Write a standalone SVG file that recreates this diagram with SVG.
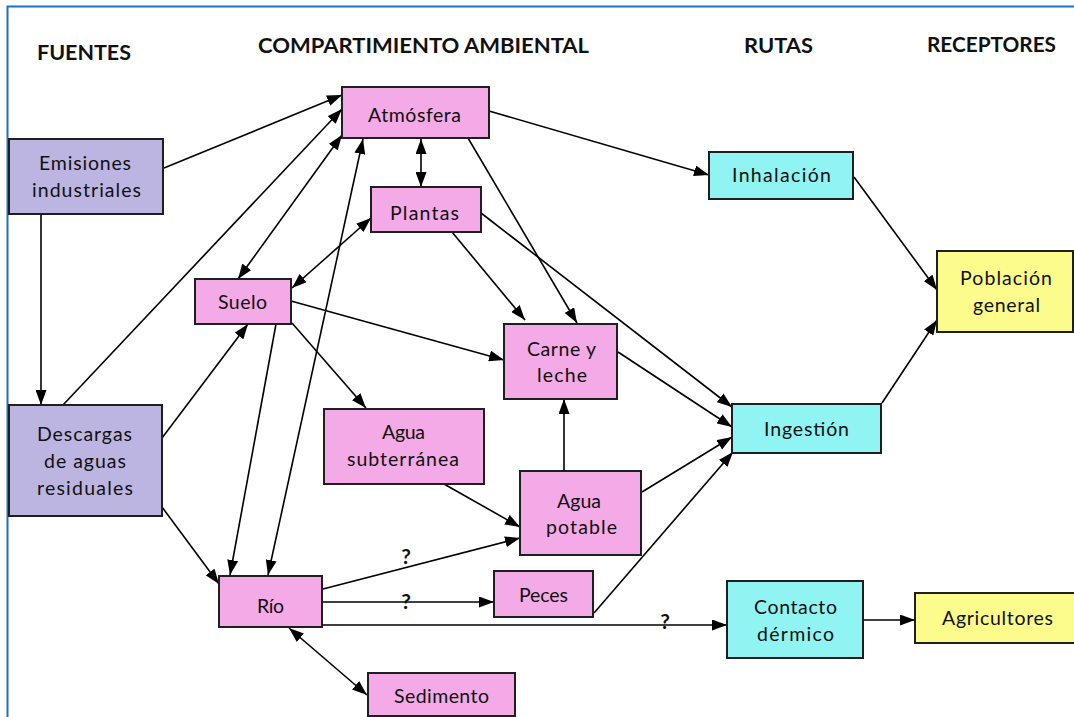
<svg xmlns="http://www.w3.org/2000/svg" width="1074" height="717" viewBox="0 0 1074 717">
  <style>
    .box { stroke: #1f1f1f; stroke-width: 2; }
    .src { fill: #bdb5e1; }
    .env { fill: #f4aae6; }
    .route { fill: #90f4f3; }
    .rec { fill: #fcfc8c; }
    .lbl { font-family: Lato, "Liberation Sans", sans-serif; font-size: 19.5px; fill: #111; text-anchor: middle; }
    .hdr { font-family: Lato, "Liberation Sans", sans-serif; font-size: 21px; font-weight: bold; fill: #111; text-anchor: middle; }
    .q { font-family: Lato, "Liberation Sans", sans-serif; font-size: 21px; font-weight: bold; fill: #111; text-anchor: middle; }
    .conn line { stroke: #000; stroke-width: 1.6; fill: none; }
    .one { marker-end: url(#arr); }
    .two { marker-start: url(#arr); marker-end: url(#arr); }
  </style>
  <defs>
    <marker id="arr" viewBox="0 0 15 11" refX="15" refY="5.5" markerWidth="15" markerHeight="11" markerUnits="userSpaceOnUse" orient="auto-start-reverse">
      <path d="M0,0 L15,5.5 L0,11 z" fill="#000"/>
    </marker>
  </defs>

  <rect width="1074" height="717" fill="#ffffff"/>
  <!-- page frame -->
  <rect x="7.5" y="6.5" width="1200" height="800" fill="none" stroke="#1c72c6" stroke-width="2"/>

  <!-- column headings -->
  <g id="headings">
    <text class="hdr" x="84" y="60" textLength="94" lengthAdjust="spacingAndGlyphs">FUENTES</text>
    <text class="hdr" x="423.5" y="53" textLength="331" lengthAdjust="spacingAndGlyphs">COMPARTIMIENTO AMBIENTAL</text>
    <text class="hdr" x="778.5" y="53" textLength="69" lengthAdjust="spacingAndGlyphs">RUTAS</text>
    <text class="hdr" x="991.5" y="52" textLength="129" lengthAdjust="spacingAndGlyphs">RECEPTORES</text>
  </g>

  <!-- connectors -->
  <g id="connectors" class="conn">
    <line class="one" x1="164" y1="168" x2="342" y2="95"/>
    <line class="one" x1="41" y1="214" x2="41" y2="405"/>
    <line class="one" x1="63" y1="405" x2="342" y2="109"/>
    <line class="two" x1="238" y1="279" x2="342" y2="135"/>
    <line class="two" x1="268" y1="575" x2="363" y2="139"/>
    <line class="one" x1="276" y1="324" x2="230" y2="575"/>
    <line class="one" x1="162" y1="438" x2="248" y2="324"/>
    <line class="one" x1="162" y1="507" x2="219" y2="584"/>
    <line class="two" x1="292" y1="288" x2="371" y2="218"/>
    <line class="two" x1="421" y1="139" x2="421" y2="187"/>
    <line class="one" x1="489" y1="111" x2="709" y2="175"/>
    <line class="one" x1="468" y1="138" x2="577" y2="323"/>
    <line class="one" x1="452" y1="232" x2="525" y2="320"/>
    <line class="one" x1="481" y1="213" x2="732" y2="407"/>
    <line class="one" x1="291" y1="301" x2="504" y2="360"/>
    <line class="one" x1="292" y1="323" x2="366" y2="408"/>
    <line class="one" x1="618" y1="352" x2="732" y2="427"/>
    <line class="one" x1="564" y1="471" x2="564" y2="399"/>
    <line class="one" x1="642" y1="492" x2="732" y2="437"/>
    <line class="one" x1="594" y1="613" x2="733" y2="452"/>
    <line class="one" x1="444" y1="484" x2="520" y2="527"/>
    <line class="one" x1="323" y1="589" x2="520" y2="538"/>
    <line class="one" x1="322" y1="602" x2="494" y2="602"/>
    <line class="one" x1="322" y1="625" x2="727" y2="625"/>
    <line class="two" x1="289" y1="628" x2="367" y2="695"/>
    <line class="one" x1="854" y1="177" x2="937" y2="290"/>
    <line class="one" x1="882" y1="403" x2="937" y2="320"/>
    <line class="one" x1="863" y1="620" x2="915" y2="620"/>
    <text class="q" x="406" y="564">?</text>
    <text class="q" x="406" y="609">?</text>
    <text class="q" x="665" y="629">?</text>
  </g>

  <!-- sources -->
  <g id="emisiones">
    <rect class="box src" x="9" y="139" width="154" height="75"/>
    <text class="lbl" x="85" y="170" textLength="92">Emisiones</text>
    <text class="lbl" x="86.5" y="197" textLength="109">industriales</text>
  </g>
  <g id="descargas">
    <rect class="box src" x="9" y="405" width="153" height="111"/>
    <text class="lbl" x="84.5" y="441" textLength="95">Descargas</text>
    <text class="lbl" x="85" y="468" textLength="82">de aguas</text>
    <text class="lbl" x="85" y="495" textLength="96">residuales</text>
  </g>

  <!-- environmental compartments -->
  <g id="atmosfera">
    <rect class="box env" x="342" y="87" width="147" height="51"/>
    <text class="lbl" x="414.5" y="122" textLength="93">Atmósfera</text>
  </g>
  <g id="plantas">
    <rect class="box env" x="371" y="187" width="110" height="45"/>
    <text class="lbl" x="424.5" y="220" textLength="69">Plantas</text>
  </g>
  <g id="suelo">
    <rect class="box env" x="195" y="279" width="96" height="45"/>
    <text class="lbl" x="242.5" y="309" textLength="49">Suelo</text>
  </g>
  <g id="carne">
    <rect class="box env" x="504" y="324" width="113" height="75"/>
    <text class="lbl" x="561.5" y="356" textLength="69">Carne y</text>
    <text class="lbl" x="562" y="382" textLength="50">leche</text>
  </g>
  <g id="subterranea">
    <rect class="box env" x="324" y="409" width="160" height="75"/>
    <text class="lbl" x="403.5" y="439" textLength="43">Agua</text>
    <text class="lbl" x="403" y="466" textLength="112">subterránea</text>
  </g>
  <g id="potable">
    <rect class="box env" x="520" y="471" width="121" height="84"/>
    <text class="lbl" x="579" y="508" textLength="44">Agua</text>
    <text class="lbl" x="581.5" y="534" textLength="71">potable</text>
  </g>
  <g id="rio">
    <rect class="box env" x="219" y="576" width="103" height="51"/>
    <text class="lbl" x="270.5" y="613" textLength="27">Río</text>
  </g>
  <g id="peces">
    <rect class="box env" x="494" y="571" width="99" height="46"/>
    <text class="lbl" x="543.5" y="602" textLength="49">Peces</text>
  </g>
  <g id="sedimento">
    <rect class="box env" x="368" y="673" width="147" height="43"/>
    <text class="lbl" x="441.5" y="703" textLength="95">Sedimento</text>
  </g>

  <!-- exposure routes -->
  <g id="inhalacion">
    <rect class="box route" x="709" y="152" width="144" height="47"/>
    <text class="lbl" x="781.5" y="182" textLength="99">Inhalación</text>
  </g>
  <g id="ingestion">
    <rect class="box route" x="732" y="404" width="149" height="49"/>
    <text class="lbl" x="806.5" y="436" textLength="85">Ingestión</text>
  </g>
  <g id="contacto">
    <rect class="box route" x="727" y="581" width="136" height="77"/>
    <text class="lbl" x="795.5" y="614" textLength="83">Contacto</text>
    <text class="lbl" x="795.5" y="641" textLength="77">dérmico</text>
  </g>

  <!-- receptors -->
  <g id="poblacion">
    <rect class="box rec" x="937" y="251" width="136" height="81"/>
    <text class="lbl" x="1006" y="285" textLength="92">Población</text>
    <text class="lbl" x="1006.5" y="312" textLength="67">general</text>
  </g>
  <g id="agricultores">
    <rect class="box rec" x="915" y="593" width="170" height="50"/>
    <text class="lbl" x="997.5" y="625" textLength="111">Agricultores</text>
  </g>
</svg>
